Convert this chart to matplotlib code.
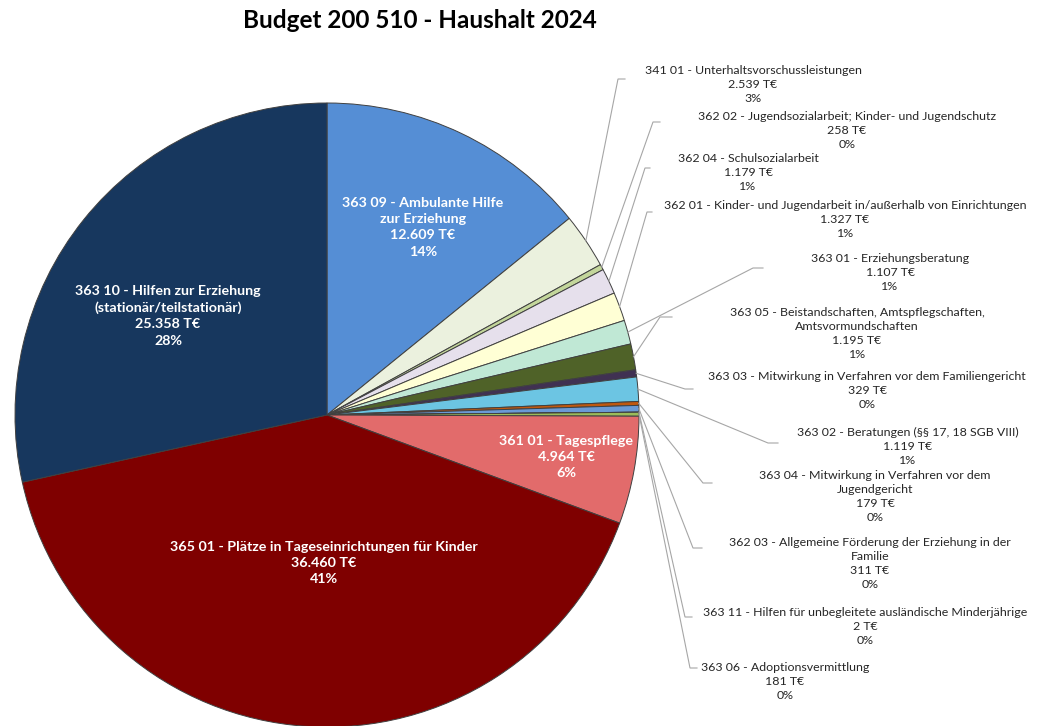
import numpy as np
import matplotlib
matplotlib.use('Agg')
import matplotlib.pyplot as plt

plt.rcParams['font.family'] = ['Lato', 'DejaVu Sans']

# Data (T€), clockwise from 12 o'clock
codes = ['363 09', '341 01', '362 02', '362 04', '362 01', '363 01', '363 05', '363 03',
         '363 02', '363 04', '362 03', '363 11', '363 06', '361 01', '365 01', '363 10']
names = ['Ambulante Hilfe\nzur Erziehung',
         'Unterhaltsvorschussleistungen',
         'Jugendsozialarbeit; Kinder- und Jugendschutz',
         'Schulsozialarbeit',
         'Kinder- und Jugendarbeit in/außerhalb von Einrichtungen',
         'Erziehungsberatung',
         'Beistandschaften, Amtspflegschaften,\nAmtsvormundschaften',
         'Mitwirkung in Verfahren vor dem Familiengericht',
         'Beratungen (§§ 17, 18 SGB VIII)',
         'Mitwirkung in Verfahren vor dem\nJugendgericht',
         'Allgemeine Förderung der Erziehung in der\nFamilie',
         'Hilfen für unbegleitete ausländische Minderjährige',
         'Adoptionsvermittlung',
         'Tagespflege',
         'Plätze in Tageseinrichtungen für Kinder',
         'Hilfen zur Erziehung\n(stationär/teilstationär)']
values = [12609, 2539, 258, 1179, 1327, 1107, 1195, 329,
          1119, 179, 311, 2, 181, 4964, 36460, 25358]
colors = ['#558ED5', '#EBF1DE', '#C3D69B', '#E6E0EC', '#FFFFD5', '#C0E8D5', '#4F6228', '#403152',
          '#6CC5E3', '#C0580F', '#6A9AD6', '#B7DEE8', '#9BBB59', '#E26B6B', '#7F0000', '#17375E']

W, H = 1041, 726
cx, cy, r = 327, H - 415, 312

# label layout in pixels (x center of text, y of first line, leader end x0, x1, y)
inside = {'363 09': (423, 204), '363 10': (168, 292), '361 01': (566, 442), '365 01': (324, 548)}
outside = {
    '341 01': (753, 71, 618, 625, 79),
    '362 02': (847, 117, 653, 660, 122),
    '362 04': (748, 159, 645, 650, 168),
    '362 01': (845, 206, 647, 652, 212),
    '363 01': (890, 259, 753, 763, 268),
    '363 05': (857, 313, 660, 672, 317),
    '363 03': (867, 377, 685, 693, 389),
    '363 02': (908, 433, 768, 778, 443),
    '363 04': (875, 476, 703, 712, 483),
    '362 03': (870, 543, 693, 702, 548),
    '363 11': (865, 613, 685, 692, 617),
    '363 06': (785, 668, 690, 697, 668),
}

total = sum(values)

def fmt(v):
    return f'{v:,}'.replace(',', '.') + ' T€'

fig = plt.figure(figsize=(W / 100, H / 100), dpi=100)
ax = fig.add_axes([0, 0, 1, 1])
wedges, _ = ax.pie(values, colors=colors, startangle=90, counterclock=False,
                   center=(cx, cy), radius=r,
                   wedgeprops=dict(edgecolor='#404040', linewidth=0.7))
ax.set_xlim(0, W)
ax.set_ylim(0, H)
ax.set_aspect('equal')
ax.axis('off')

for w, code, name, v in zip(wedges, codes, names, values):
    pct = f'{round(v / total * 100):.0f}%'
    label = f'{code} - {name}\n{fmt(v)}\n{pct}'
    if code in inside:
        tx, ty = inside[code]
        ax.text(tx, H - ty + 7, label, ha='center', va='top', color='white',
                fontsize=10.3, fontweight='bold', linespacing=1.42)
    else:
        tx, ty, x0, x1, ly = outside[code]
        mid = np.deg2rad((w.theta1 + w.theta2) / 2)
        px, py = cx + r * np.cos(mid), cy + r * np.sin(mid)
        ax.plot([px, x0, x1], [py, H - ly, H - ly], color='#A6A6A6', lw=0.8,
                solid_joinstyle='miter')
        ax.text(tx, H - ty + 6, label, ha='center', va='top', color='#262626',
                fontsize=8.9, linespacing=1.32)

ax.text(420, H - 20, 'Budget 200 510 - Haushalt 2024', ha='center', va='center',
        fontsize=17.5, fontweight='bold', color='#000000')

fig.savefig('out.png', dpi=100)
